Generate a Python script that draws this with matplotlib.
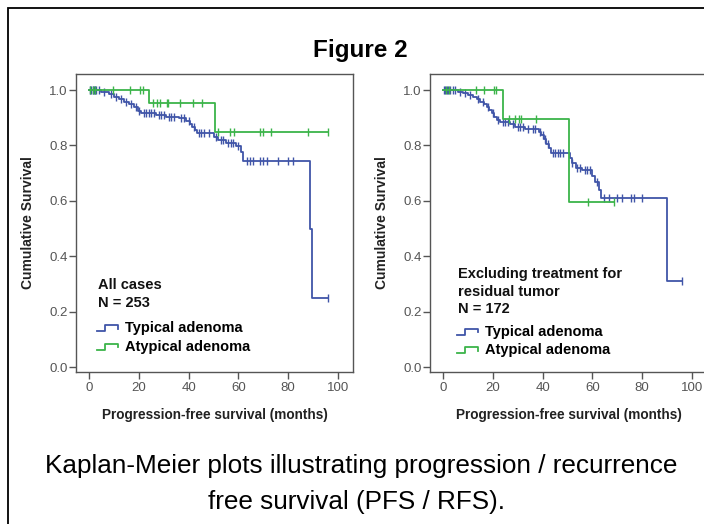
import numpy as np
import matplotlib
matplotlib.use("Agg")
import matplotlib.pyplot as plt
from matplotlib.lines import Line2D
from matplotlib.legend_handler import HandlerBase
from matplotlib.patches import Rectangle

plt.rcParams['font.family'] = ['Liberation Sans', 'DejaVu Sans']

BLUE = '#4055a8'
GREEN = '#3cb44a'
AXC = '#555555'

# ---- left panel: all cases (N = 253) ----
left_typ_t = [0, 5, 8, 10, 12, 14, 16, 18, 19.5, 21, 27, 31, 36, 39, 40.5, 41.5, 42.5, 43.5,
              50, 52, 55, 59, 61, 62, 88.8, 89.6, 96]
left_typ_s = [1.0, 0.992, 0.984, 0.976, 0.968, 0.958, 0.948, 0.938, 0.926, 0.916, 0.910, 0.904,
              0.898, 0.890, 0.878, 0.866, 0.854, 0.845, 0.832, 0.818, 0.810, 0.797, 0.775, 0.745,
              0.50, 0.25, 0.25]
left_typ_cens = [0.5, 1, 1.5, 2, 2.5, 3, 4, 6, 9, 11, 13, 15, 17, 19, 20, 22, 23, 24, 25, 26, 28,
                 29, 30, 32, 33, 34, 37, 38, 40, 42, 44, 45, 46, 48, 51, 53, 54, 56, 57, 58, 60,
                 63.3, 64.6, 66, 68.6, 69.7, 71.3, 76, 80, 82, 96]

left_aty_t = [0, 24.2, 50.6, 96]
left_aty_s = [1.0, 0.952, 0.850, 0.850]
left_aty_cens = [0.4, 1.7, 2.5, 9.8, 16.5, 20.5, 21.8, 25.6, 27.2, 28.5, 31.2, 31.8, 36.5, 41.9,
                 45.2, 51.9, 56.6, 58.2, 68.7, 69.8, 73, 88, 96]

# ---- right panel: excluding treatment for residual tumor (N = 172) ----
right_typ_t = [0, 6, 8, 10, 12, 13.5, 15, 16.5, 17.5, 18.5, 19.5, 20.5, 21.5, 23, 27, 29, 33,
               38.5, 39.5, 40.5, 41.5, 42.5, 43.5, 51, 52, 53.5, 56, 60, 61, 62.5, 63.5, 90.1, 96]
right_typ_s = [1.0, 0.994, 0.988, 0.982, 0.974, 0.966, 0.958, 0.950, 0.940, 0.928, 0.916, 0.904,
               0.892, 0.884, 0.876, 0.866, 0.858, 0.848, 0.836, 0.822, 0.806, 0.790, 0.772,
               0.755, 0.738, 0.720, 0.710, 0.690, 0.668, 0.640, 0.612, 0.31, 0.31]
right_typ_cens = [0.5, 1, 1.5, 2, 3, 4, 5, 7, 9, 11, 14, 16, 18, 20, 22, 24, 25, 26, 28, 30, 31,
                  32, 34, 36, 37, 39, 40, 41, 42, 44, 45, 46, 47, 48, 52, 54, 55, 57, 58, 59,
                  62, 64.7, 66.7, 70, 72, 75.4, 76.7, 80, 96]

right_aty_t = [0, 24.1, 50.6, 68.7]
right_aty_s = [1.0, 0.894, 0.595, 0.595]
right_aty_cens = [1.1, 2.4, 13.1, 16.5, 20.5, 21.2, 26.5, 28.9, 30.5, 31.2, 37.2, 58.4, 68.7]

x_ticks = [0, 20, 40, 60, 80, 100]
y_ticks = [0.0, 0.2, 0.4, 0.6, 0.8, 1.0]
y_ticklabels = ['0.0', '0.2', '0.4', '0.6', '0.8', '1.0']
group_labels = ['Typical adenoma', 'Atypical adenoma']
left_note = ['All cases', 'N = 253']
right_note = ['Excluding treatment for', 'residual tumor', 'N = 172']


class StepHandler(HandlerBase):
    def create_artists(self, legend, orig_handle, xdescent, ydescent, width, height, fontsize, trans):
        xs = np.array([0, 0.38, 0.38, 1, 1]) * width - xdescent
        ys = np.array([0.1, 0.1, 0.7, 0.7, 0.35]) * height - ydescent
        ln = Line2D(xs, ys, color=orig_handle.get_color(), lw=orig_handle.get_linewidth())
        ln.set_transform(trans)
        return [ln]


def level_at(t_steps, s_steps, times):
    idx = np.searchsorted(t_steps, times, side='right') - 1
    return np.asarray(s_steps)[idx]


def km(ax, t, s, cens, color):
    ax.step(t, s, where='post', color=color, lw=1.3)
    ax.plot(cens, level_at(t, s, cens), ls='none', marker='|', ms=6, mew=1.0, color=color)


def panel(ax, curves, note, note_x, note_y, leg_y):
    for t, s, c, col in curves:
        km(ax, t, s, c, col)
    ax.set_xlim(-5.2, 106)
    ax.set_ylim(-0.018, 1.058)
    ax.set_xticks(x_ticks)
    ax.set_yticks(y_ticks)
    ax.set_yticklabels(y_ticklabels)
    ax.tick_params(direction='out', length=5, width=1, color=AXC, labelcolor='#555555',
                   labelsize=9.5)
    ax.tick_params(axis='x', pad=2)
    ax.tick_params(axis='y', pad=1)
    for sp in ax.spines.values():
        sp.set_color(AXC)
        sp.set_linewidth(1)
    ax.set_ylabel('Cumulative Survival', fontsize=10, fontweight='bold', color='#222222')
    ax.yaxis.set_label_coords(-41 / 277, 0.5)
    ax.set_xlabel('Progression-free survival (months)', fontsize=9.8, fontweight='bold',
                  color='#222222', va='center')
    ax.xaxis.set_label_coords(0.5, -0.144)
    step = 17.7 / 298
    for i, line in enumerate(note):
        ax.text(note_x, note_y - i * step, line, transform=ax.transAxes, fontsize=10.5,
                fontweight='bold', va='center', ha='left', color='#111111')
    handles = [Line2D([], [], color=BLUE, lw=1.3), Line2D([], [], color=GREEN, lw=1.3)]
    ax.legend(handles, group_labels, loc='upper left', bbox_to_anchor=(note_x - 0.005, leg_y),
              frameon=False, borderpad=0, borderaxespad=0, handlelength=1.45,
              handletextpad=0.45, labelspacing=0.3, handler_map={Line2D: StepHandler()},
              prop={'size': 10.5, 'weight': 'bold'})


fig = plt.figure(figsize=(7.04, 5.24), dpi=100)
ax1 = fig.add_axes([76 / 704, 1 - 372 / 524, 277 / 704, 298 / 524])
ax2 = fig.add_axes([430 / 704, 1 - 372 / 524, 277 / 704, 298 / 524])

panel(ax1, [(left_typ_t, left_typ_s, left_typ_cens, BLUE),
            (left_aty_t, left_aty_s, left_aty_cens, GREEN)],
      left_note, 0.0805, 0.292, 0.170)
panel(ax2, [(right_typ_t, right_typ_s, right_typ_cens, BLUE),
            (right_aty_t, right_aty_s, right_aty_cens, GREEN)],
      right_note, 0.102, 0.329, 0.158)

fig.text(0.512, 1 - 51 / 524, 'Figure 2', fontsize=17.5, fontweight='bold', ha='center', va='center')
fig.text(0.513, 1 - 466 / 524, 'Kaplan-Meier plots illustrating progression / recurrence',
         fontsize=18.8, ha='center', va='center')
fig.text(0.507, 1 - 502 / 524, 'free survival (PFS / RFS).', fontsize=18.8, ha='center', va='center')

fig.add_artist(Rectangle((8 / 704, -0.1), 1.2, 1.1 - 8 / 524, transform=fig.transFigure,
                         fill=False, ec='black', lw=1.3))

fig.savefig('out.png', dpi=100)
